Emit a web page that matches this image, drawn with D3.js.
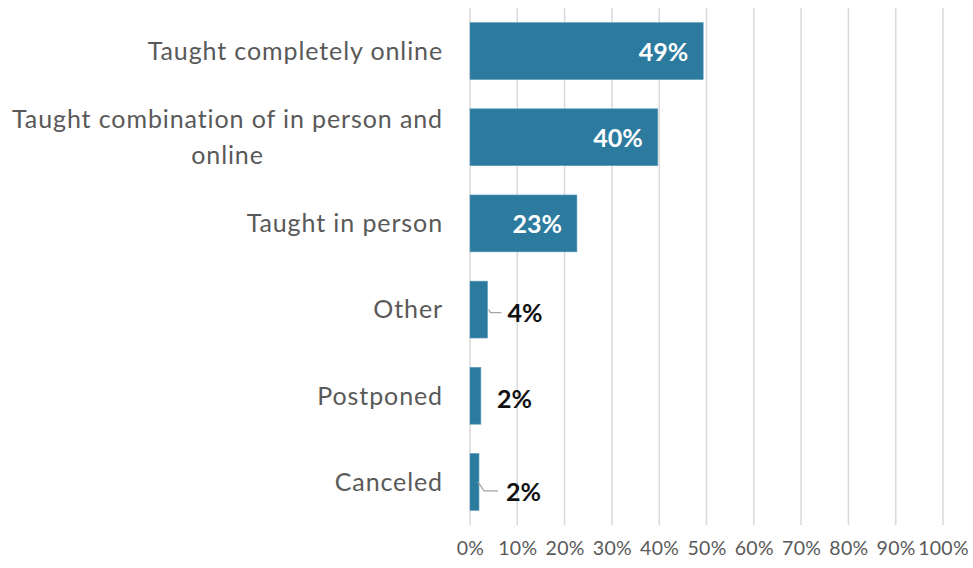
<!DOCTYPE html>
<html><head><meta charset="utf-8">
<script src="https://cdn.jsdelivr.net/npm/d3@7"></script>
<style>
html,body{margin:0;padding:0;background:#fff;}
svg{display:block;font-family:Lato,"Open Sans",sans-serif;}
</style></head>
<body><svg id="chart" width="973" height="568"></svg>
<script>
const categories = ["Taught completely online", "Taught combination of in person and online", "Taught in person", "Other", "Postponed", "Canceled"];
const categoryLines = [["Taught completely online"], ["Taught combination of in person and", "online"], ["Taught in person"], ["Other"], ["Postponed"], ["Canceled"]];
const values = [49.3, 39.7, 22.6, 3.7, 2.3, 1.9];
const valueLabels = ["49%", "40%", "23%", "4%", "2%", "2%"];
const tickValues = [0, 10, 20, 30, 40, 50, 60, 70, 80, 90, 100];
const tickLabels = ["0%", "10%", "20%", "30%", "40%", "50%", "60%", "70%", "80%", "90%", "100%"];

const svg = d3.select("#chart");
const x = d3.scaleLinear().domain([0, 100]).range([470, 943]);
const y = d3.scaleBand().domain(categories).range([8, 525]).paddingInner(0.34).paddingOuter(0.17);

// gridlines
svg.append("g").selectAll("line").data(tickValues).join("line")
  .attr("x1", d => x(d)).attr("x2", d => x(d))
  .attr("y1", 8).attr("y2", 525)
  .attr("stroke", "#d9d9d9").attr("stroke-width", 1.5);

// tick labels
const xAxis = d3.axisBottom(x).tickValues(tickValues).tickFormat((d, i) => tickLabels[i]).tickSize(0).tickPadding(0);
const ax = svg.append("g").attr("transform", "translate(0,548)").call(xAxis);
ax.select(".domain").remove();
ax.selectAll("text").attr("font-size", 19.5).attr("fill", "#595959").attr("font-family", "Lato, sans-serif").attr("letter-spacing", 0.3).attr("dy", "0.35em");

// bars
svg.append("g").selectAll("rect").data(values).join("rect")
  .attr("x", x(0)).attr("y", (d, i) => y(categories[i]))
  .attr("width", d => x(d) - x(0)).attr("height", y.bandwidth())
  .attr("fill", "#2c7b9f").attr("stroke", "#5a9ab8").attr("stroke-width", 0.6);

// category labels
const lg = svg.append("g");
categoryLines.forEach((lines, i) => {
  const cy = y(categories[i]) + y.bandwidth() / 2;
  const lh = 36;
  const g = lg.append("g");
  const texts = lines.map((t, j) => g.append("text").text(t)
    .attr("font-size", 25).attr("letter-spacing", 0.9).attr("fill", "#595959")
    .attr("y", cy + (j - (lines.length - 1) / 2) * lh).attr("dy", "0.35em"));
  const w = d3.max(texts, t => t.node().getComputedTextLength());
  texts.forEach(t => t.attr("text-anchor", "middle").attr("x", 443 - w / 2));
});

// value labels
const inside = v => v > 10;
const offsets = [{dx: -15, dy: 1}, {dx: -15, dy: 1}, {dx: -15, dy: 1}, {dx: 20, dy: 4}, {dx: 16, dy: 3}, {dx: 27, dy: 10}];
svg.append("g").selectAll("text").data(values).join("text")
  .attr("x", (d, i) => x(d) + offsets[i].dx)
  .attr("y", (d, i) => y(categories[i]) + y.bandwidth() / 2 + offsets[i].dy)
  .attr("dy", "0.35em")
  .attr("text-anchor", d => inside(d) ? "end" : "start")
  .attr("font-size", 25).attr("font-weight", "bold")
  .attr("fill", d => inside(d) ? "#ffffff" : "#111111")
  .text((d, i) => valueLabels[i]);

// leader lines
const leader = svg.append("g").attr("fill", "none").attr("stroke", "#a6a6a6").attr("stroke-width", 1.3);
{
  const i = 3, xe = x(values[i]), cy = y(categories[i]) + y.bandwidth() / 2;
  leader.append("path").attr("d", `M${xe + 1},${cy} L${xe + 3},${cy + 3} L${xe + 14},${cy + 3}`);
}
{
  const i = 5, xe = x(values[i]), cy = y(categories[i]) + y.bandwidth() / 2;
  leader.append("path").attr("d", `M${xe - 1},${cy} L${xe + 5},${cy + 9} L${xe + 19},${cy + 9}`);
}
</script></body></html>
